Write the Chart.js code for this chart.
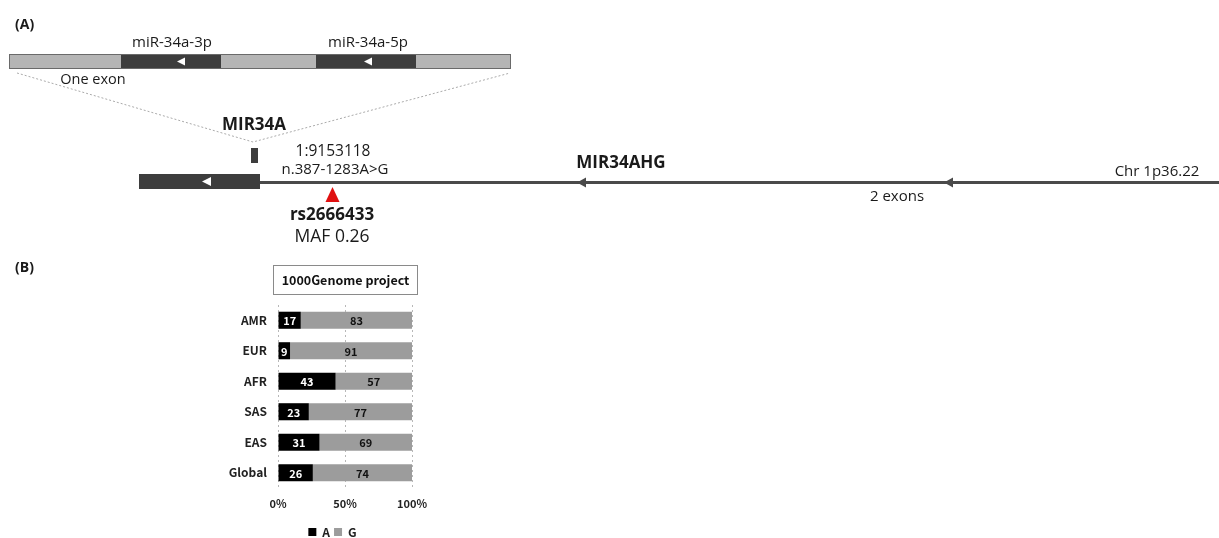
<!DOCTYPE html>
<html>
<head>
<meta charset="utf-8">
<script src="https://cdn.jsdelivr.net/npm/chart.js@4.4.1/dist/chart.umd.min.js"></script>
<style>
  body { margin: 0; background: #fff; }
  #wrap { position: relative; width: 1219px; height: 538px; }
</style>
</head>
<body>
<div id="wrap"><canvas id="myChart" width="1219" height="538"></canvas></div>
<script>
// populations from the 1000 Genomes project, allele frequency (%) of rs2666433
const populations = ["AMR", "EUR", "AFR", "SAS", "EAS", "Global"];
const alleleA = [17, 9, 43, 23, 31, 26];
const alleleG = [83, 91, 57, 77, 69, 74];
const xTicks = [0, 50, 100];

const diagFont = "'Open Sans', sans-serif";
const barFont = "'Noto Sans CJK KR', 'Noto Sans', sans-serif";

const tri = (ctx, x, y, w, h, color) => {
    // left pointing triangle, tip at x
    ctx.fillStyle = color;
    ctx.beginPath();
    ctx.moveTo(x, y);
    ctx.lineTo(x + w, y - h / 2);
    ctx.lineTo(x + w, y + h / 2);
    ctx.closePath();
    ctx.fill();
};

const text = (ctx, str, x, y, size, bold, align) => {
    ctx.font = (bold ? "bold " : "") + size + "px " + diagFont;
    ctx.fillStyle = "#1a1a1a";
    ctx.textAlign = align || "center";
    ctx.textBaseline = "middle";
    ctx.fillText(str, x, y);
};

// panel (A): gene structure, drawn straight on the canvas
const genePanel = {
    id: "genePanel",
    afterDraw(chart) {
        const ctx = chart.ctx;
        ctx.save();

        text(ctx, "(A)", 15, 25, 14, true, "left");
        text(ctx, "(B)", 15, 268, 14, true, "left");

        // zoomed exon of MIR34A
        const segs = [[9, 121, "#b5b5b5"], [121, 221, "#3d3d3d"], [221, 316, "#b5b5b5"], [316, 416, "#3d3d3d"], [416, 511, "#b5b5b5"]];
        segs.forEach(s => {
            ctx.fillStyle = s[2];
            ctx.fillRect(s[0], 54, s[1] - s[0], 15);
        });
        ctx.strokeStyle = "#6a6a6a";
        ctx.lineWidth = 1;
        ctx.strokeRect(9.5, 54.5, 501, 14);
        tri(ctx, 177, 61.5, 8, 8, "#fff");
        tri(ctx, 364, 61.5, 8, 8, "#fff");
        text(ctx, "miR-34a-3p", 172, 43, 15);
        text(ctx, "miR-34a-5p", 368, 43, 15);
        text(ctx, "One exon", 93, 80, 14.5);

        // dotted zoom lines
        ctx.strokeStyle = "#aaaaaa";
        ctx.setLineDash([2, 2]);
        ctx.beginPath();
        ctx.moveTo(17, 73);
        ctx.lineTo(253, 142);
        ctx.lineTo(510, 73);
        ctx.stroke();
        ctx.setLineDash([]);

        text(ctx, "MIR34A", 254, 125, 17, true);
        ctx.fillStyle = "#3d3d3d";
        ctx.fillRect(251, 148, 7, 15);

        // MIR34AHG transcript
        ctx.strokeStyle = "#4a4a4a";
        ctx.lineWidth = 3;
        ctx.beginPath();
        ctx.moveTo(258, 182.5);
        ctx.lineTo(1219, 182.5);
        ctx.stroke();
        tri(ctx, 577, 182.5, 9, 10, "#4a4a4a");
        tri(ctx, 944, 182.5, 9, 10, "#4a4a4a");

        ctx.fillStyle = "#3d3d3d";
        ctx.fillRect(139, 174, 121, 15);
        tri(ctx, 202, 181.5, 9, 9, "#fff");

        text(ctx, "1:9153118", 333, 152, 15.5);
        text(ctx, "n.387-1283A>G", 335, 170, 15);
        text(ctx, "MIR34AHG", 621, 163, 17, true);
        text(ctx, "Chr 1p36.22", 1157, 172, 15);
        text(ctx, "2 exons", 897, 197, 15);

        // SNP marker
        ctx.fillStyle = "#e01010";
        ctx.beginPath();
        ctx.moveTo(332.5, 187);
        ctx.lineTo(339.5, 202);
        ctx.lineTo(325.5, 202);
        ctx.closePath();
        ctx.fill();
        text(ctx, "rs2666433", 332, 215, 17, true);
        text(ctx, "MAF 0.26", 332, 237, 17.5);

        ctx.restore();
    }
};

// boxed title over the bar chart and the numbers inside the bars
const barExtras = {
    id: "barExtras",
    afterDatasetsDraw(chart) {
        const ctx = chart.ctx;
        const area = chart.chartArea;
        ctx.save();
        const cx = (area.left + area.right) / 2;
        ctx.strokeStyle = "#8a8a8a";
        ctx.lineWidth = 1;
        ctx.strokeRect(cx - 71.5, area.top - 39.5, 144, 29);
        ctx.font = "bold 12.5px " + barFont;
        ctx.fillStyle = "#111";
        ctx.textAlign = "center";
        ctx.textBaseline = "middle";
        ctx.fillText("1000Genome project", cx + 0.5, area.top - 25);

        ctx.font = "bold 11px " + barFont;
        chart.data.datasets.forEach((ds, i) => {
            const meta = chart.getDatasetMeta(i);
            meta.data.forEach((bar, j) => {
                const mid = (bar.x + bar.base) / 2;
                ctx.fillStyle = i === 0 ? "#fff" : "#111";
                ctx.fillText(ds.data[j], mid, bar.y + 1);
            });
        });
        ctx.restore();
    }
};

const ctx = document.getElementById("myChart").getContext("2d");
const myChart = new Chart(ctx, {
    type: "bar",
    data: {
        labels: populations,
        datasets: [
            { label: "A", data: alleleA, backgroundColor: "#000000", barPercentage: 0.56, categoryPercentage: 1 },
            { label: "G", data: alleleG, backgroundColor: "#9c9c9c", barPercentage: 0.56, categoryPercentage: 1 }
        ]
    },
    options: {
        indexAxis: "y",
        responsive: false,
        animation: false,
        layout: { padding: { left: 200, right: 754, top: 305, bottom: -10 } },
        scales: {
            x: {
                stacked: true,
                min: 0,
                max: 100,
                afterBuildTicks: (scale) => { scale.ticks = xTicks.map(v => ({ value: v })); },
                grid: { color: "#b8b8b8", drawTicks: false },
                border: { display: false },
                ticks: {
                    padding: 9,
                    color: "#222",
                    font: { family: barFont, size: 11, weight: "bold" },
                    callback: (v) => v + "%"
                },
                afterFit: (scale) => { scale.height = 34; }
            },
            y: {
                stacked: true,
                grid: { display: false, drawTicks: false },
                border: { display: false },
                ticks: {
                    padding: 11,
                    color: "#222",
                    font: { family: barFont, size: 12, weight: "bold" }
                },
                afterFit: (scale) => { scale.width = 78; }
            },
            // empty axis on the right, only keeps the legend centred under the bars
            yRight: {
                type: "linear",
                position: "right",
                grid: { display: false, drawTicks: false },
                border: { display: false },
                ticks: { display: false },
                afterFit: (scale) => { scale.width = 53; }
            }
        },
        plugins: {
            legend: {
                position: "bottom",
                labels: {
                    boxWidth: 8,
                    boxHeight: 8,
                    padding: 4,
                    color: "#222",
                    font: { family: barFont, size: 12, weight: "bold" }
                }
            },
            tooltip: { enabled: false }
        }
    },
    plugins: [genePanel, barExtras]
});

// dashed vertical grid lines
myChart.options.scales.x.grid.borderDash = [2, 3];
myChart.options.scales.x.border.dash = [2, 3];
myChart.update();
</script>
</body>
</html>
